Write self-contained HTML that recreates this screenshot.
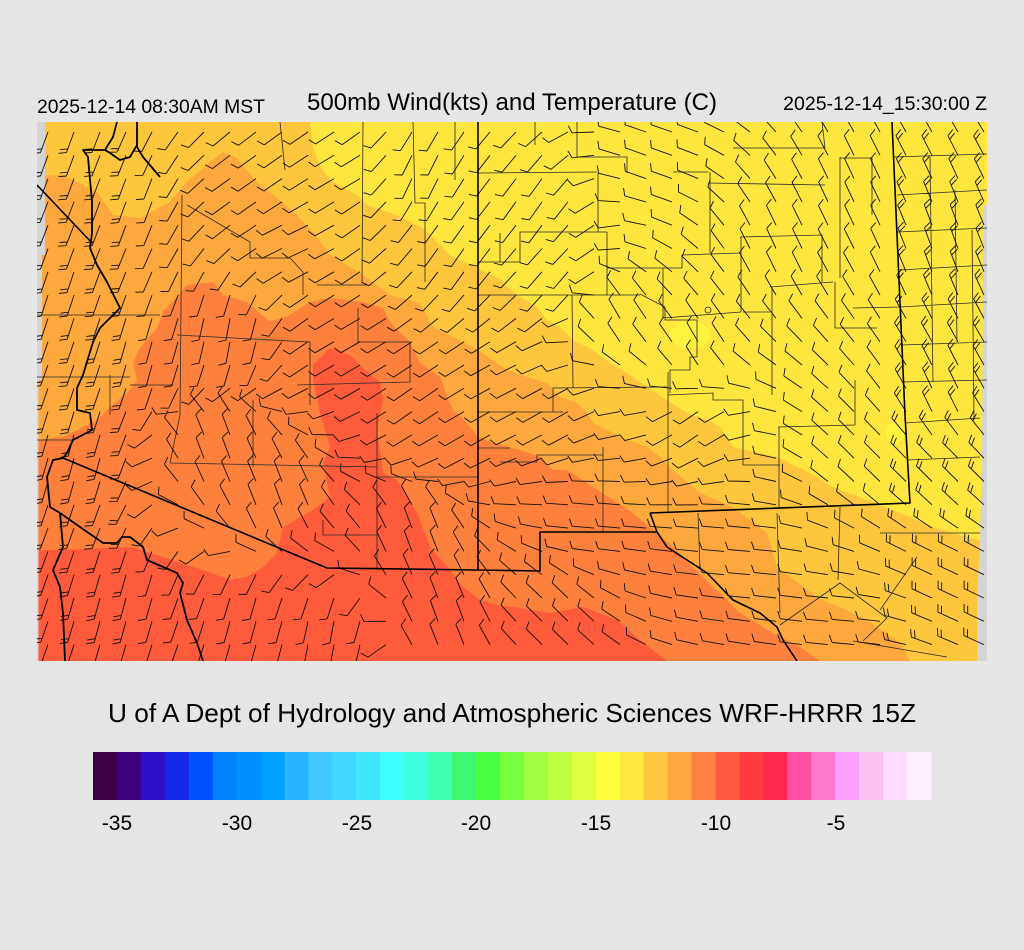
<!DOCTYPE html>
<html><head><meta charset="utf-8">
<style>
html,body{margin:0;padding:0;background:#e5e5e5;}
svg{display:block;}
text{font-family:"Liberation Sans",Arial,sans-serif;fill:#000;}
</style></head>
<body>
<svg width="1024" height="950" viewBox="0 0 1024 950" xmlns="http://www.w3.org/2000/svg">
<rect x="0" y="0" width="1024" height="950" fill="#e5e5e5"/>
<text x="37" y="113" font-size="19.3" textLength="228" lengthAdjust="spacingAndGlyphs">2025-12-14 08:30AM MST</text>
<text x="307" y="110" font-size="24" textLength="410" lengthAdjust="spacingAndGlyphs">500mb Wind(kts) and Temperature (C)</text>
<text x="987" y="110" font-size="19.5" text-anchor="end">2025-12-14_15:30:00 Z</text>
<defs><clipPath id="mc"><rect x="37" y="122" width="950" height="539"/></clipPath></defs>
<g clip-path="url(#mc)">
<rect x="37" y="122" width="950" height="539" fill="#ffe63f"/>
<ellipse cx="690" cy="335" rx="20" ry="14" fill="#fff23e"/>
<ellipse cx="895" cy="433" rx="9" ry="11" fill="#fff23e"/>
<polygon fill="#fdc63d" points="37,122 310,122 313,148 320,165 330,180 357,195 367,205 397,215 423,228 450,255 477,268 502,280 507,287 520,297 537,307 547,320 560,327 573,340 593,350 610,363 627,373 647,387 667,400 687,413 707,420 720,427 733,447 777,457 810,473 833,487 867,500 900,513 933,527 967,537 987,542 987,661 37,661"/>
<polygon fill="#fca83c" points="37,176 63,175 97,192 113,215 140,218 170,202 187,182 210,162 223,152 237,158 257,182 277,198 297,215 313,232 330,255 347,265 363,275 390,295 420,303 433,327 453,337 478,350 507,370 527,377 547,383 560,397 577,403 587,413 593,423 607,430 627,440 647,447 660,457 673,470 700,493 733,507 767,533 777,567 817,597 867,620 900,643 910,661 37,661"/>
<polygon fill="#fd803c" points="37,440 63,437 97,420 110,407 130,390 137,380 133,362 140,348 157,328 163,312 187,285 213,282 223,295 247,302 270,322 290,315 310,302 330,298 363,302 383,308 390,322 410,342 420,363 440,377 447,397 453,410 467,423 478,437 493,443 520,450 540,457 553,470 567,470 593,487 633,513 673,547 713,587 740,613 773,633 800,647 820,661 37,661"/>
<polygon fill="#fe5a3c" points="313,365 330,348 350,355 363,368 380,382 383,400 377,430 383,473 397,480 417,513 430,547 450,570 463,587 480,600 497,605 520,608 550,613 583,607 617,620 640,640 667,661 37,661 37,550 63,550 130,547 163,557 203,570 230,580 247,577 263,567 277,553 283,527 313,510 330,497 323,463 330,447 320,413 313,380"/>
<rect x="37" y="122" width="8" height="133" fill="#d4d4d4"/>
<rect x="37" y="255" width="5" height="125" fill="#d4d4d4"/>
<rect x="37" y="380" width="1.5" height="281" fill="#d4d4d4"/>
<polygon fill="#d4d4d4" points="983,205 987,205 987,661 977,661 977,600 980,540 982,450 983,300"/>
<!-- county lines -->
<path fill="none" stroke="#2a2a2a" stroke-width="0.8" d="
M363,122 L362,283 M317,285 L367,285 M413,122 L415,203 L425,203 L425,282
M478,173 L597,172 M478,262 L520,262 L520,232 L607,232 M478,295 L640,295
M577,122 L577,157 L627,157 L627,173 M598,173 L598,232 M607,232 L607,295
M187,205 L250,242 L250,258 L290,258 L303,272 L303,295
M182,195 L180,415 L170,463 M37,315 L160,315 M37,377 L130,377
M177,335 L310,342 L310,405 M130,385 L173,385 M110,375 L110,415
M297,385 L410,382 L410,342 L358,342 L358,308
M170,463 L377,467 M253,400 L253,467 M377,413 L377,570 M323,520 L323,535 L377,535
M377,477 L477,477 M477,448 L510,448 M477,412 L563,412 M553,412 L553,388 L667,387
M668,372 L668,513 M668,395 L713,393 L713,400 L743,400 L743,465 L780,465
M778,427 L855,425 M779,427 L779,508 M855,380 L855,425
M905,423 L980,418 M908,460 L980,457 M603,447 L603,532
M500,462 L537,462 L537,455 L603,455
M698,513 L700,567 M777,513 L780,613 M840,507 L838,580 M880,533 L980,533
M840,583 L780,625 M840,583 L887,618 L863,641 M917,557 L880,610 M853,641 L947,657
M893,157 L987,154 M897,195 L987,190 M897,232 L987,228 M900,270 L987,265
M900,307 L987,302 M902,345 L987,342 M903,382 L987,380
M930,157 L933,382 M955,190 L957,342 M972,230 L974,420
M822,122 L825,148 M733,148 L825,148 M840,157 L840,278 M840,158 L872,158 L872,215
M710,172 L710,253 M708,183 L825,185 M673,172 L708,172
M740,237 L822,235 L822,282 M741,237 L741,312 M663,318 L741,312 M663,268 L663,318
M607,268 L682,268 L682,255 L740,253 M770,287 L833,282 M772,287 L772,395
M835,282 L835,328 L877,328 M853,308 L900,307 M572,295 L573,388
M640,294 L665,307 L665,320 L697,320 L697,357 L690,357 L690,370 L670,370 L670,393
M743,312 L770,312 M37,440 L73,440
M500,262 L500,233 M535,122 L535,145 M455,122 L455,180 M280,122 L285,170"/>
<circle cx="708" cy="310" r="3" fill="none" stroke="#222" stroke-width="0.8"/>
<!-- barbs -->
<path id="barbs" fill="none" stroke="#111" stroke-width="0.9" d=""/>
<!-- state borders / rivers -->
<path fill="none" stroke="#000" stroke-width="1.6" stroke-linejoin="round" d="
M478,122 L478,570
M892,122 L905,415 L910,503 L650,513
M650,513 L657,532 L667,547 L687,560 L707,573 L733,600 L760,613 L777,627 L783,640 L797,661
M63,458 L327,568 L478,570 L540,571 L540,532 L657,532
M37,185 L92,243"/>
<path fill="none" stroke="#000" stroke-width="1.8" stroke-linejoin="round" d="
M117,122 L113,137 L105,150 L83,150 L88,157 L92,202 L92,233 L90,248 L97,265 L107,282 L120,308 L100,328 L93,342 L83,375 L77,388 L77,410 L90,413 L92,430 L73,440 L67,453 L63,458 L53,460 L47,477 L50,507 L60,513 L80,527 L103,543 L117,543 L122,537 L130,537 L143,547 L147,560 L177,573 L183,583 L180,593 L187,620 L197,643 L203,661
M60,513 L63,547 L53,570 L60,587 L63,613 L65,661
M137,122 L137,147 L143,157 L160,177
M105,150 L110,153 L120,160 L130,157 L137,145"/>
</g>
<!-- colorbar -->
<g id="cb"></g>
<text x="117" y="830" font-size="21" text-anchor="middle">-35</text>
<text x="237" y="830" font-size="21" text-anchor="middle">-30</text>
<text x="357" y="830" font-size="21" text-anchor="middle">-25</text>
<text x="476" y="830" font-size="21" text-anchor="middle">-20</text>
<text x="596" y="830" font-size="21" text-anchor="middle">-15</text>
<text x="716" y="830" font-size="21" text-anchor="middle">-10</text>
<text x="836" y="830" font-size="21" text-anchor="middle">-5</text>
<text x="108" y="722" font-size="26" textLength="808" lengthAdjust="spacingAndGlyphs">U of A Dept of Hydrology and Atmospheric Sciences WRF-HRRR 15Z</text>
</svg>
<script>
(function(){
var cols=["#3d0040","#3f0080","#2f10c8","#1428e8","#0050ff","#0080ff","#0090ff","#00a0ff","#28b4ff","#40c8ff","#40d8ff","#40e8ff","#40ffff","#40ffe0","#40ffb0","#40f870","#48ff40","#78ff40","#a0ff40","#c0ff40","#e0ff40","#ffff40","#ffe840","#ffc840","#ffa840","#ff8040","#ff5a40","#ff3a40","#ff2850","#ff50a0","#ff78d0","#ffa0ff","#ffbff0","#ffdcff","#fff0ff"];
var ns="http://www.w3.org/2000/svg",g=document.getElementById("cb"),w=838/35;
for(var i=0;i<35;i++){var r=document.createElementNS(ns,"rect");r.setAttribute("x",(93+i*w).toFixed(2));r.setAttribute("y","752");r.setAttribute("width",(w+0.6).toFixed(2));r.setAttribute("height","48");r.setAttribute("fill",cols[i]);g.appendChild(r);}
var ctrl=[[60,150,110],[130,200,110],[60,300,108],[150,350,105],[80,450,105],[120,600,105],[250,620,105],[330,640,100],
[250,190,145],[300,240,155],[350,170,150],[420,170,115],[460,250,125],[230,330,100],[350,340,150],[420,400,145],[470,430,150],
[220,450,250],[280,500,250],[420,540,250],[450,620,250],[540,200,125],[560,280,130],[650,160,200],[620,320,240],[700,350,240],
[780,250,245],[850,200,245],[940,250,250],[940,400,245],[560,410,150],[700,420,145],[870,450,225],[950,470,225],
[600,520,185],[750,560,185],[850,620,185],[560,620,225],[950,580,205]];
function ang(x,y){var sx=0,sy=0;for(var k=0;k<ctrl.length;k++){var c=ctrl[k];var d2=(x-c[0])*(x-c[0])+(y-c[1])*(y-c[1])+100;var wt=1/(d2*Math.sqrt(d2));var a=c[2]*Math.PI/180;sx+=wt*Math.cos(a);sy+=wt*Math.sin(a);}return Math.atan2(sy,sx);}
var s="";
for(var y=132;y<665;y+=23.3){for(var x=48;x<990;x+=26){
var a=ang(x,y),L=22;var tx=x+L*Math.cos(a),ty=y+L*Math.sin(a);
s+="M"+x.toFixed(1)+","+y.toFixed(1)+"L"+tx.toFixed(1)+","+ty.toFixed(1);
var n=(x<150||x>890)?2:1;var b=a+65*Math.PI/180;
for(var k=0;k<n;k++){var px=x+(L-k*4)*Math.cos(a),py=y+(L-k*4)*Math.sin(a);
s+="M"+px.toFixed(1)+","+py.toFixed(1)+"l"+(8*Math.cos(b)).toFixed(1)+","+(8*Math.sin(b)).toFixed(1);}
}}
document.getElementById("barbs").setAttribute("d",s);
})();
</script>
</body></html>
